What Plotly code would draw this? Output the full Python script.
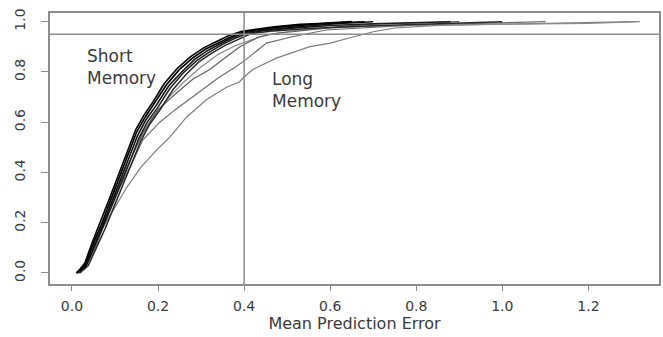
import plotly.graph_objects as go

short_1_x = [0.010, 0.030, 0.050, 0.070, 0.090, 0.110, 0.130, 0.150, 0.170, 0.190, 0.220, 0.250, 0.280, 0.310, 0.340, 0.370, 0.400, 0.430, 0.480, 0.540, 0.600, 0.650]
short_1_y = [0.000, 0.030, 0.120, 0.200, 0.290, 0.380, 0.470, 0.560, 0.620, 0.670, 0.750, 0.810, 0.855, 0.890, 0.915, 0.940, 0.960, 0.968, 0.978, 0.988, 0.995, 1.000]

short_2_x = [0.012, 0.032, 0.052, 0.072, 0.092, 0.112, 0.133, 0.152, 0.172, 0.195, 0.225, 0.255, 0.285, 0.315, 0.345, 0.375, 0.405, 0.440, 0.500, 0.560, 0.620, 0.700]
short_2_y = [0.000, 0.025, 0.110, 0.190, 0.280, 0.370, 0.460, 0.545, 0.610, 0.665, 0.745, 0.800, 0.850, 0.885, 0.912, 0.938, 0.958, 0.966, 0.976, 0.985, 0.993, 1.000]

short_3_x = [0.015, 0.035, 0.055, 0.075, 0.095, 0.115, 0.135, 0.155, 0.175, 0.198, 0.228, 0.258, 0.290, 0.320, 0.350, 0.380, 0.410, 0.450, 0.520, 0.600, 0.700, 0.880]
short_3_y = [0.000, 0.035, 0.115, 0.195, 0.275, 0.360, 0.445, 0.535, 0.600, 0.655, 0.735, 0.795, 0.845, 0.880, 0.910, 0.935, 0.955, 0.965, 0.975, 0.985, 0.992, 1.000]

short_4_x = [0.012, 0.030, 0.048, 0.068, 0.088, 0.108, 0.128, 0.148, 0.168, 0.188, 0.215, 0.245, 0.275, 0.305, 0.335, 0.365, 0.395, 0.425, 0.470, 0.530, 0.620, 0.680]
short_4_y = [0.000, 0.040, 0.125, 0.210, 0.300, 0.390, 0.480, 0.570, 0.630, 0.680, 0.755, 0.815, 0.860, 0.895, 0.920, 0.945, 0.962, 0.970, 0.980, 0.990, 0.996, 1.000]

short_5_x = [0.018, 0.038, 0.058, 0.078, 0.098, 0.118, 0.138, 0.160, 0.180, 0.205, 0.235, 0.265, 0.295, 0.325, 0.355, 0.385, 0.415, 0.460, 0.560, 0.700, 0.850, 1.000]
short_5_y = [0.000, 0.030, 0.105, 0.180, 0.265, 0.350, 0.435, 0.525, 0.590, 0.650, 0.730, 0.790, 0.840, 0.875, 0.905, 0.930, 0.952, 0.962, 0.974, 0.984, 0.992, 1.000]

long_1_x = [0.015, 0.040, 0.070, 0.100, 0.130, 0.165, 0.200, 0.243, 0.280, 0.320, 0.360, 0.390, 0.435, 0.480, 0.512, 0.560, 0.620, 0.700, 0.800, 0.900]
long_1_y = [0.000, 0.060, 0.190, 0.310, 0.430, 0.560, 0.650, 0.716, 0.770, 0.810, 0.860, 0.900, 0.940, 0.955, 0.960, 0.970, 0.980, 0.990, 0.995, 1.000]

long_2_x = [0.015, 0.045, 0.075, 0.111, 0.140, 0.165, 0.204, 0.240, 0.280, 0.343, 0.380, 0.405, 0.452, 0.512, 0.590, 0.680, 0.780, 0.880, 1.000, 1.100]
long_2_y = [0.000, 0.080, 0.190, 0.340, 0.440, 0.530, 0.600, 0.650, 0.700, 0.780, 0.820, 0.850, 0.915, 0.940, 0.967, 0.975, 0.985, 0.990, 0.995, 1.000]

long_3_x = [0.020, 0.050, 0.072, 0.100, 0.127, 0.160, 0.197, 0.227, 0.266, 0.313, 0.360, 0.389, 0.400, 0.420, 0.475, 0.551, 0.600, 0.644, 0.700, 0.750, 0.850, 1.000, 1.150, 1.310]
long_3_y = [0.000, 0.080, 0.180, 0.260, 0.340, 0.420, 0.490, 0.540, 0.620, 0.690, 0.740, 0.760, 0.780, 0.810, 0.855, 0.900, 0.915, 0.935, 0.960, 0.975, 0.985, 0.990, 0.995, 1.000]

long_4_x = [0.015, 0.040, 0.065, 0.095, 0.125, 0.155, 0.185, 0.220, 0.260, 0.300, 0.340, 0.380, 0.420, 0.460, 0.520, 0.600, 0.700, 0.850, 1.000, 1.200, 1.320]
long_4_y = [0.000, 0.050, 0.160, 0.290, 0.410, 0.520, 0.610, 0.690, 0.760, 0.820, 0.870, 0.905, 0.930, 0.950, 0.965, 0.975, 0.982, 0.987, 0.990, 0.993, 1.000]

x_ticks = [0.0, 0.2, 0.4, 0.6, 0.8, 1.0, 1.2]
x_tick_labels = ["0.0", "0.2", "0.4", "0.6", "0.8", "1.0", "1.2"]
y_ticks = [0.0, 0.2, 0.4, 0.6, 0.8, 1.0]
y_tick_labels = ["0.0", "0.2", "0.4", "0.6", "0.8", "1.0"]
ref_level = 0.95
ref_error = 0.4

series = [
    (long_3_x, long_3_y, "#7e7e7e", 1.2),
    (long_2_x, long_2_y, "#6e6e6e", 1.2),
    (long_4_x, long_4_y, "#8a8a8a", 1.2),
    (long_1_x, long_1_y, "#5e5e5e", 1.2),
    (short_5_x, short_5_y, "#2a2a2a", 1.5),
    (short_3_x, short_3_y, "#1e1e1e", 1.5),
    (short_2_x, short_2_y, "#111111", 1.6),
    (short_4_x, short_4_y, "#050505", 1.6),
    (short_1_x, short_1_y, "#000000", 1.7),
]

fig = go.Figure()
for xs, ys, col, w in series:
    fig.add_trace(go.Scatter(x=xs, y=ys, mode="lines",
                             line=dict(color=col, width=w), showlegend=False,
                             hoverinfo="skip"))

axis_col = "#8c8c8c"
fig.add_hline(y=ref_level, line=dict(color=axis_col, width=1.5))
fig.add_vline(x=ref_error, line=dict(color=axis_col, width=1.5))

txt = "#3a3a3a"
fig.add_annotation(x=0.030, y=0.82, xref="x", yref="y", text="Short<br>Memory",
                   showarrow=False, xanchor="left", yanchor="middle", align="left",
                   font=dict(family="DejaVu Sans", size=17, color=txt))
fig.add_annotation(x=0.459, y=0.73, xref="x", yref="y", text="Long<br>Memory",
                   showarrow=False, xanchor="left", yanchor="middle", align="left",
                   font=dict(family="DejaVu Sans", size=17, color=txt))

fig.update_layout(
    width=663, height=337,
    margin=dict(l=50, r=2, t=13, b=53),
    paper_bgcolor="white", plot_bgcolor="white",
    font=dict(family="DejaVu Sans", color=txt),
    xaxis=dict(range=[-0.051, 1.364], tickvals=x_ticks, ticktext=x_tick_labels,
               showgrid=False, zeroline=False, showline=True, mirror=True,
               linecolor=axis_col, linewidth=1.5, ticks="outside", ticklen=5,
               tickcolor=axis_col, tickwidth=1, tickfont=dict(size=14, color=txt),
               ticklabelstandoff=3,
               title=dict(text="Mean Prediction Error", font=dict(size=16, color=txt),
                          standoff=5)),
    yaxis=dict(range=[-0.0438, 1.0346], tickvals=y_ticks, ticktext=y_tick_labels,
               showgrid=False, zeroline=False, showline=True, mirror=True,
               linecolor=axis_col, linewidth=1.5, ticks="outside", ticklen=7,
               tickcolor=axis_col, tickwidth=1, tickangle=-90,
               tickfont=dict(size=14, color=txt), ticklabelstandoff=11),
)

fig.write_html("out.html")
